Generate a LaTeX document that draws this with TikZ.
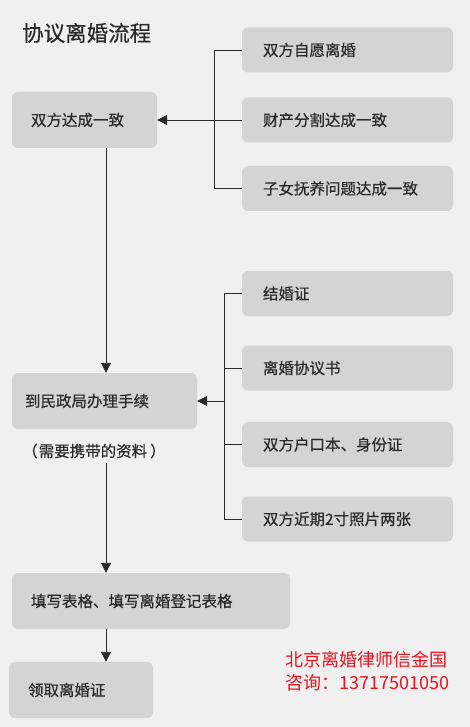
\documentclass[tikz,border=0pt]{standalone}
\usepackage{fontspec}
\setmainfont{Noto Sans CJK SC}
\newfontfamily\heavycjk[FakeBold=0.5]{Noto Sans CJK SC}
\usetikzlibrary{arrows.meta}
\definecolor{bg}{HTML}{F0F0F0}
\definecolor{boxfill}{HTML}{D4D4D4}
\definecolor{txt}{HTML}{2A2A2A}
\definecolor{redtxt}{HTML}{E8141E}
\tikzset{
  box/.style={fill=boxfill, rounded corners=6pt, minimum height=45pt, text=txt,
    font=\heavycjk\fontsize{15.5}{18}\selectfont, align=left, inner ysep=0pt},
  rbox/.style={box, minimum width=211pt, text width=169pt, inner xsep=21pt},
  conn/.style={draw=txt, line width=0.9pt},
  arr/.style={conn, -{Triangle[length=10pt,width=10pt]}},
}
\begin{document}
\begin{tikzpicture}[x=1pt,y=-1pt]
\fill[bg] (0,0) rectangle (470,727);
\useasboundingbox (0,0) rectangle (470,727);

\node[anchor=west, text=txt, font=\heavycjk\fontsize{21.5}{24}\selectfont, inner sep=0pt] (title) at (22,33) {协议离婚流程};

% right boxes group 1
\node[rbox] (r1) at (347.5,50) {双方自愿离婚};
\node[rbox] (r2) at (347.5,120) {财产分割达成一致};
\node[rbox] (r3) at (347.5,188.5) {子女抚养问题达成一致};

% left box 1
\node[box, minimum width=145pt, minimum height=56pt, text width=107pt, inner xsep=19pt] (b1) at (84.5,120) {双方达成一致};

% right boxes group 2
\node[rbox] (r4) at (347.5,293.5) {结婚证};
\node[rbox] (r5) at (347.5,368) {离婚协议书};
\node[rbox] (r6) at (347.5,444.5) {双方户口本、身份证};
\node[rbox] (r7) at (347.5,519) {双方近期2寸照片两张};

% left box 2
\node[box, minimum width=185pt, minimum height=56pt, text width=159pt, inner xsep=13pt] (b2) at (104.5,401) {到民政局办理手续};
\node[anchor=west, text=txt, font=\heavycjk\fontsize{15.5}{18}\selectfont, inner xsep=0pt, inner ysep=4pt] (note) at (22,451) {（\hspace{1pt}需要携带的资料\hspace{3pt}）};

% box 3 and 4
\node[box, minimum width=278pt, minimum height=56pt, text width=240pt, inner xsep=19pt] (b3) at (151,601) {填写表格、填写离婚登记表格};
\node[box, minimum width=144pt, minimum height=56pt, text width=106pt, inner xsep=19pt] (b4) at (81,690) {领取离婚证};

% red contact text
\node[anchor=west, text=redtxt, font=\fontsize{18}{23}\selectfont, align=left, inner sep=0pt] (contact) at (285,671.5) {北京离婚律师信金国\\咨询：13717501050};

% connectors
\coordinate (vx) at (106,0);
\coordinate (bx1) at (214,0);
\coordinate (bx2) at (224,0);

\draw[conn] (r1.west) -- (r1.west -| bx1) |- (r3.west);
\draw[arr] (r2.west) -- (b1.east);

\draw[conn] (r4.west) -- (r4.west -| bx2) |- (r7.west);
\draw[conn] (r5.west) -- (r5.west -| bx2);
\draw[conn] (r6.west) -- (r6.west -| bx2);
\draw[arr] (b2.east -| bx2) -- (b2.east);

\draw[arr] (b1.south -| vx) -- (b2.north -| vx);
\draw[arr] (note.south -| vx) -- (b3.north -| vx);
\draw[arr] (b3.south -| vx) -- (b4.north -| vx);
\end{tikzpicture}
\end{document}
